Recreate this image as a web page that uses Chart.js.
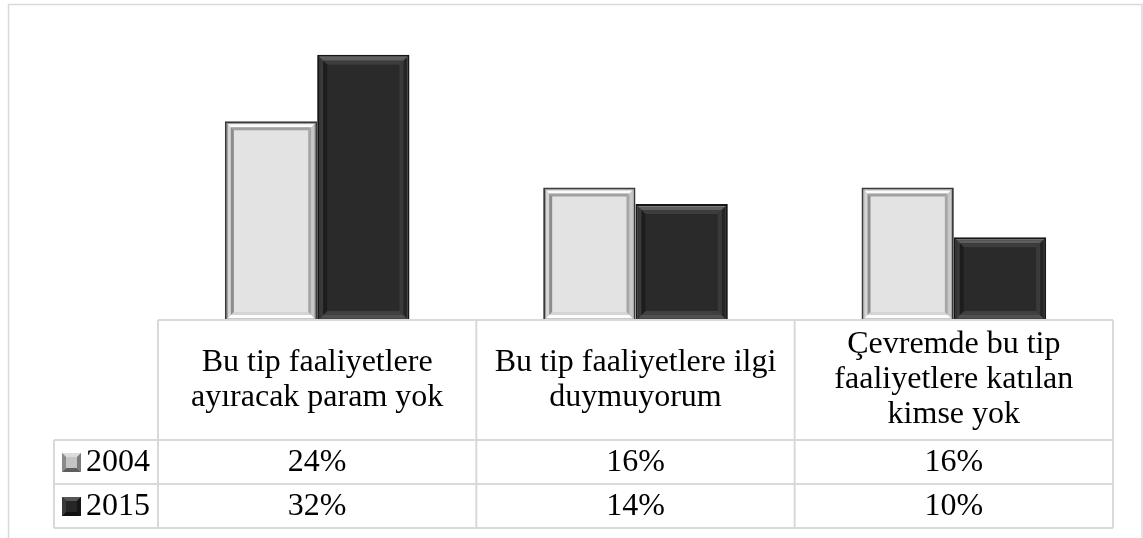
<!DOCTYPE html>
<html>
<head>
<meta charset="utf-8">
<script src="https://cdn.jsdelivr.net/npm/chart.js@4"></script>
<style>
  html, body { margin: 0; padding: 0; background: #fff; }
  #wrap { width: 1143px; height: 538px; position: relative; }
</style>
</head>
<body>
<div id="wrap"><canvas id="myChart" width="1143" height="538"></canvas></div>
<script>
// kategoriler (tablo basliklari, satirlara bolunmus)
const kategoriler = [
  ['Bu tip faaliyetlere', 'ayıracak param yok'],
  ['Bu tip faaliyetlere ilgi', 'duymuyorum'],
  ['Çevremde bu tip', 'faaliyetlere katılan', 'kimse yok']
];
const yillar = ['2004', '2015'];
const degerler2004 = [24, 16, 16];
const degerler2015 = [32, 14, 10];

const fontAile = '"Liberation Serif", "Times New Roman", serif';
const izgaraRenk = '#d9d9d9';

// dort kenarli kabartma cerceve
function kenar(ctx, l, t, r, b, s, c) {
  ctx.fillStyle = c[0]; // ust
  ctx.beginPath(); ctx.moveTo(l, t); ctx.lineTo(r, t); ctx.lineTo(r - s, t + s); ctx.lineTo(l + s, t + s); ctx.closePath(); ctx.fill();
  ctx.fillStyle = c[3]; // alt
  ctx.beginPath(); ctx.moveTo(l, b); ctx.lineTo(r, b); ctx.lineTo(r - s, b - s); ctx.lineTo(l + s, b - s); ctx.closePath(); ctx.fill();
  ctx.fillStyle = c[1]; // sol
  ctx.beginPath(); ctx.moveTo(l, t); ctx.lineTo(l + s, t + s); ctx.lineTo(l + s, b - s); ctx.lineTo(l, b); ctx.closePath(); ctx.fill();
  ctx.fillStyle = c[2]; // sag
  ctx.beginPath(); ctx.moveTo(r, t); ctx.lineTo(r - s, t + s); ctx.lineTo(r - s, b - s); ctx.lineTo(r, b); ctx.closePath(); ctx.fill();
}

const stiller = [
  { katman: [[1, ['#8a8a8a', '#8a8a8a', '#9a9a9a', '#c8c8c8']], [3, ['#fbfbfb', '#d6d6d6', '#c8c8c8', '#fdfdfd']], [3, ['#a0a0a0', '#8c8c8c', '#a6a6a6', '#d4d4d4']]] },
  { katman: [[1, ['#7a7a7a', '#333', '#333', '#444']], [3, ['#5e5e5e', '#3a3a3a', '#242424', '#505050']], [4, ['#3d3d3d', '#1d1d1d', '#3a3a3a', '#404040']]] }
];

const kabartma = {
  id: 'kabartma',
  afterDatasetsDraw(chart) {
    const ctx = chart.ctx;
    chart.data.datasets.forEach((ds, i) => {
      chart.getDatasetMeta(i).data.forEach(el => {
        const p = el.getProps(['x', 'y', 'base', 'width'], true);
        let l = p.x - p.width / 2 + 2, r = p.x + p.width / 2 - 2, t = p.y + 2, b = p.base - 1;
        ctx.save();
        stiller[i].katman.forEach(k => {
          kenar(ctx, l, t, r, b, k[0], k[1]);
          l += k[0]; r -= k[0]; t += k[0]; b -= k[0];
        });
        ctx.restore();
      });
    });
  }
};

const tablo = {
  id: 'tablo',
  beforeDraw(chart) {
    const ctx = chart.ctx;
    ctx.save();
    ctx.strokeStyle = izgaraRenk;
    ctx.lineWidth = 1.5;
    ctx.strokeRect(8.5, 4.5, 1133.5, 600);
    ctx.restore();
  },
  afterDraw(chart) {
    const ctx = chart.ctx;
    const xs = chart.scales.x;
    const area = chart.chartArea;
    const n = kategoriler.length;
    const adim = (area.right - area.left) / n;
    const ust = area.bottom, baslikAlt = ust + 120, satirH = 44;
    const solX = 54;
    ctx.save();
    ctx.strokeStyle = izgaraRenk;
    ctx.lineWidth = 2;
    ctx.beginPath();
    // baslik satiri
    ctx.moveTo(area.left, ust); ctx.lineTo(area.right, ust);
    for (let i = 0; i <= n; i++) {
      const x = area.left + adim * i;
      ctx.moveTo(x, ust); ctx.lineTo(x, baslikAlt + satirH * yillar.length);
    }
    for (let j = 0; j <= yillar.length; j++) {
      const y = baslikAlt + satirH * j;
      ctx.moveTo(solX, y); ctx.lineTo(area.right, y);
    }
    ctx.moveTo(solX, baslikAlt); ctx.lineTo(solX, baslikAlt + satirH * yillar.length);
    ctx.stroke();

    ctx.fillStyle = '#000';
    ctx.font = '32px ' + fontAile;
    ctx.textAlign = 'center';
    ctx.textBaseline = 'middle';
    const satirAra = 35;
    kategoriler.forEach((satirlar, i) => {
      const cx = xs.getPixelForValue(i);
      const y0 = (ust + baslikAlt) / 2 - (satirlar.length - 1) * satirAra / 2;
      satirlar.forEach((s, k) => ctx.fillText(s, cx, y0 + k * satirAra));
    });
    const veriler = [degerler2004, degerler2015];
    yillar.forEach((yil, j) => {
      const cy = baslikAlt + satirH * j + satirH / 2;
      veriler[j].forEach((v, i) => {
        ctx.textAlign = 'center';
        ctx.fillText(v + '%', xs.getPixelForValue(i), cy + 1);
      });
      // isaret
      const mx = 62, my = cy - 9, ms = 19;
      ctx.fillStyle = j === 0 ? '#c4c4c4' : '#262626';
      ctx.fillRect(mx, my, ms, ms);
      kenar(ctx, mx, my, mx + ms, my + ms, 4,
        j === 0 ? ['#dcdcdc', '#8a8a8a', '#7a7a7a', '#5e5e5e'] : ['#555', '#3a3a3a', '#151515', '#111']);
      ctx.fillStyle = '#000';
      ctx.textAlign = 'left';
      ctx.fillText(yil, 86, cy + 1);
    });
    ctx.restore();
  }
};

const config = {
  type: 'bar',
  data: {
    labels: kategoriler,
    datasets: [
      { label: yillar[0], data: degerler2004, backgroundColor: '#e3e3e3', borderColor: '#3a3a3a', borderWidth: 2 },
      { label: yillar[1], data: degerler2015, backgroundColor: '#2a2a2a', borderColor: '#161616', borderWidth: 2 }
    ]
  },
  options: {
    responsive: false,
    animation: false,
    layout: { padding: { left: 158, right: 30, top: 30, bottom: 218 } },
    datasets: { bar: { categoryPercentage: 0.58, barPercentage: 1.0 } },
    plugins: { legend: { display: false }, tooltip: { enabled: false } },
    scales: {
      x: { display: false },
      y: { display: false, min: 0, max: 35 }
    }
  },
  plugins: [tablo, kabartma]
};

const myChart = new Chart(document.getElementById('myChart'), config);
</script>
</body>
</html>
